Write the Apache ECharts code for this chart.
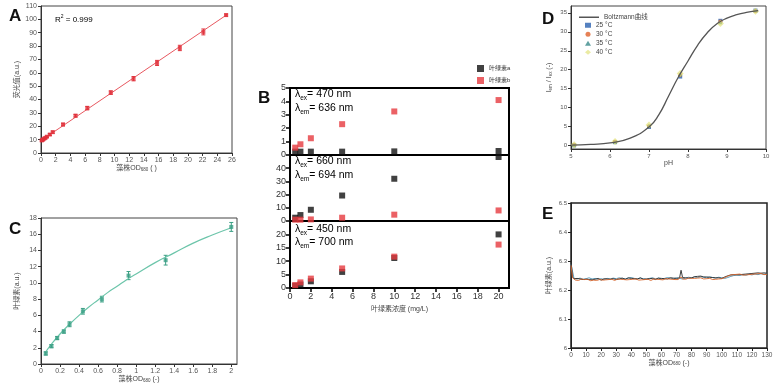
<!DOCTYPE html>
<html><head><meta charset="utf-8">
<script src="https://cdn.jsdelivr.net/npm/echarts@6/dist/echarts.min.js"></script>
<style>html,body{margin:0;padding:0;background:#fff}#c{width:780px;height:388px}</style>
</head><body><div id="c"></div>
<script>
// ---------- Panel A ----------
const aX = [0.1,0.2,0.3,0.45,0.6,0.8,1.2,1.6,3.0,4.7,6.3,9.5,12.6,15.8,18.9,22.1,25.2];
const aY = [9.4,9.8,10.2,10.8,11.3,12.2,13.8,15.6,21.3,27.9,33.6,45.2,55.6,67.4,78.6,90.6,103.2];
const aErr = [0.5,0.5,0.5,0.5,0.6,0.6,0.7,0.8,1.0,1.0,1.3,1.3,1.6,1.9,2.0,2.2,0.8];
const aFitX = [0, 25.2];
const aFitY = [9.3, 103.1];
// ---------- Panel C ----------
const cX = [0.05,0.11,0.17,0.24,0.30,0.44,0.64,0.92,1.31,2.0];
const cY = [1.3,2.2,3.2,4.0,4.9,6.5,8.0,10.9,12.8,16.9];
const cErr = [0.2,0.2,0.2,0.2,0.3,0.35,0.35,0.5,0.6,0.55];
const cFitX = [0.05,0.1,0.2,0.3,0.4,0.5,0.6,0.7,0.8,0.9,1.0,1.2,1.4,1.6,1.8,2.0];
const cFitY = [1.5,2.3,3.7,4.9,6.0,7.0,7.9,8.8,9.6,10.4,11.1,12.5,13.7,14.9,15.9,16.8];
// ---------- Panel B ----------
const bX = [0.5,1,2,5,10,20];
const b1A = [0.25,0.25,0.25,0.25,0.27,0.3];
const b1B = [0.55,0.8,1.25,2.3,3.25,4.1];
const b2A = [2.5,4.5,8.5,19.3,32,48.5];
const b2B = [1,1,1.2,2.5,4.8,8];
const b3A = [0.8,1.3,2.5,6,11.2,20];
const b3B = [1.1,2.1,3.5,7.3,11.7,16.2];
// ---------- Panel D ----------
const dX = [5.08,6.13,7.0,7.8,8.83,9.73];
const d25 = [0.1,0.9,4.9,18.2,32.9,35.6];
const d30 = [0.15,1.0,5.1,18.6,32.7,35.5];
const d35 = [0.1,0.95,5.2,18.8,32.5,35.7];
const d40 = [0.2,1.1,5.4,19.0,32.2,35.4];
const dFitX = [5.0,5.5,6.0,6.5,7.0,7.25,7.5,7.75,8.0,8.25,8.5,8.75,9.0,9.25,9.5,9.8];
const dFitY = [0.1,0.3,0.7,1.9,4.9,8.1,13.0,18.0,22.3,26.5,29.8,32.2,33.6,34.5,35.1,35.6];
// ---------- Panel E ----------
const eBlack = [6.30,6.245,6.238,6.236,6.240,6.235,6.238,6.241,6.236,6.239,6.237,6.240,6.236,6.238,6.235,6.239,6.237,6.236,6.240,6.238,6.234,6.237,6.239,6.236,6.238,6.240,6.237,6.235,6.239,6.238,6.236,6.240,6.238,6.237,6.241,6.239,6.237,6.240,6.242,6.238,6.240,6.243,6.239,6.241,6.238,6.240,6.242,6.239,6.237,6.240,6.238,6.236,6.239,6.237,6.240,6.238,6.236,6.239,6.241,6.238,6.240,6.242,6.239,6.241,6.238,6.240,6.242,6.239,6.241,6.238,6.240,6.239,6.242,6.268,6.243,6.240,6.242,6.239,6.241,6.243,6.242,6.244,6.246,6.245,6.247,6.246,6.248,6.246,6.245,6.247,6.245,6.243,6.244,6.242,6.243,6.241,6.242,6.240,6.242,6.241,6.240,6.243,6.245,6.247,6.249,6.250,6.252,6.251,6.253,6.254,6.252,6.255,6.253,6.256,6.254,6.252,6.255,6.253,6.256,6.254,6.257,6.255,6.258,6.256,6.259,6.262,6.258,6.261,6.259,6.262,6.258];
const eOrange = [6.285,6.242,6.236,6.234,6.237,6.233,6.236,6.238,6.234,6.236,6.233,6.237,6.235,6.232,6.236,6.234,6.237,6.233,6.235,6.236,6.232,6.234,6.237,6.235,6.233,6.236,6.234,6.237,6.235,6.233,6.236,6.238,6.235,6.237,6.234,6.236,6.238,6.235,6.237,6.236,6.234,6.237,6.235,6.238,6.236,6.234,6.237,6.235,6.233,6.236,6.234,6.237,6.235,6.233,6.236,6.238,6.235,6.237,6.234,6.236,6.238,6.235,6.237,6.239,6.236,6.238,6.235,6.237,6.239,6.236,6.238,6.236,6.239,6.245,6.238,6.240,6.237,6.239,6.241,6.238,6.240,6.242,6.240,6.243,6.241,6.239,6.242,6.240,6.238,6.241,6.239,6.237,6.240,6.238,6.236,6.239,6.237,6.240,6.238,6.236,6.239,6.241,6.243,6.246,6.248,6.250,6.252,6.250,6.253,6.251,6.254,6.252,6.255,6.253,6.251,6.254,6.252,6.255,6.253,6.256,6.254,6.252,6.255,6.253,6.256,6.254,6.257,6.255,6.253,6.256,6.254];
const eBlue = [6.29,6.240,6.238,6.241,6.237,6.239,6.242,6.238,6.240,6.237,6.239,6.236,6.240,6.238,6.241,6.239,6.242,6.240,6.238,6.241,6.243,6.240,6.238,6.241,6.239,6.237,6.240,6.242,6.239,6.241,6.238,6.240,6.243,6.241,6.239,6.242,6.240,6.238,6.241,6.244,6.242,6.245,6.243,6.246,6.244,6.242,6.245,6.243,6.241,6.244,6.242,6.240,6.243,6.247,6.250,6.252,6.250,6.253,6.251,6.254,6.252,6.255,6.253,6.256,6.254,6.257];
const eStep1 = 1, eStep2 = 2;

const FONT = '"Liberation Sans","Noto Sans CJK SC",sans-serif';
const pair = (xs, ys) => xs.map((x, i) => [x, ys[i]]);
const idxPair = (ys, step) => ys.map((y, i) => [i * step, y]);

function ax(gi, min, max, interval, o) {
  o = o || {};
  const a = {
    type: 'value', gridIndex: gi, min: min, max: max, interval: interval,
    axisLine: { show: true, onZero: false, lineStyle: { color: o.lc || '#333', width: o.lw || 1 } },
    axisTick: { show: o.tick !== false, inside: false, length: o.tl || 3, lineStyle: { color: o.lc || '#333', width: o.lw || 1 } },
    axisLabel: { show: o.label !== false, fontSize: o.fs || 7, color: o.col || '#555', margin: o.margin || 4, fontFamily: FONT, showMaxLabel: o.showMax !== false },
    splitLine: { show: false }
  };
  if (o.custom) { a.axisLabel.customValues = o.custom; a.axisTick.customValues = o.custom; }
  if (o.name) {
    a.name = o.name; a.nameLocation = 'middle'; a.nameGap = o.gap;
    if (o.rot) a.nameRotate = o.rot;
    a.nameTextStyle = { fontSize: 7, color: '#444', fontFamily: FONT, rich: {
      t: { fontSize: 7, color: '#444', fontFamily: FONT },
      s: { fontSize: 4.5, color: '#444', fontFamily: FONT, verticalAlign: 'bottom', lineHeight: 6 } } };
  }
  return a;
}

function errSeries(xi, xs, ys, es, color) {
  return {
    type: 'custom', xAxisIndex: xi, yAxisIndex: xi, silent: true, z: 3,
    data: xs.map((x, i) => [x, ys[i] - es[i], ys[i] + es[i]]),
    encode: { x: 0, y: [1, 2] },
    renderItem: function (params, api) {
      const lo = api.coord([api.value(0), api.value(1)]);
      const hi = api.coord([api.value(0), api.value(2)]);
      const w = 2;
      const st = { stroke: color, lineWidth: 1 };
      return { type: 'group', children: [
        { type: 'line', shape: { x1: lo[0], y1: lo[1], x2: hi[0], y2: hi[1] }, style: st },
        { type: 'line', shape: { x1: lo[0] - w, y1: lo[1], x2: lo[0] + w, y2: lo[1] }, style: st },
        { type: 'line', shape: { x1: hi[0] - w, y1: hi[1], x2: hi[0] + w, y2: hi[1] }, style: st }
      ] };
    }
  };
}

const RED = '#e0303a', TEAL = '#3a9f84', BK = '#111', BR = '#e63a3f';
const rich = {
  a: { fontSize: 10.5, color: '#222', fontFamily: FONT, lineHeight: 14 },
  s: { fontSize: 6.5, color: '#222', fontFamily: FONT, lineHeight: 8, verticalAlign: 'bottom' }
};
function lam(left, top, sub, txt) {
  return { type: 'text', left: left, top: top, style: { text: '{a|λ}{s|' + sub + '}{a|' + txt + '}', rich: rich } };
}
function letter(t, left, top) {
  return { type: 'text', left: left, top: top, style: { text: t, font: 'bold 17px "Liberation Sans", sans-serif', fill: '#111' } };
}
const legText = { fontSize: 6.5, color: '#444', fontFamily: FONT, lineHeight: 6 };

const option = {
  animation: false,
  backgroundColor: '#fff',
  textStyle: { fontFamily: FONT },
  grid: [
    { left: 41, top: 6, width: 191, height: 147, show: true, borderColor: '#444', borderWidth: 1 },
    { left: 41, top: 218, width: 196, height: 146, show: true, borderColor: '#444', borderWidth: 1 },
    { left: 290, top: 88, width: 219, height: 67, show: true, borderColor: '#000', borderWidth: 2 },
    { left: 290, top: 155, width: 219, height: 66, show: true, borderColor: '#000', borderWidth: 2 },
    { left: 290, top: 221, width: 219, height: 67, show: true, borderColor: '#000', borderWidth: 2 },
    { left: 571, top: 6, width: 195, height: 143, show: true, borderColor: '#444', borderWidth: 1 },
    { left: 571, top: 203, width: 196, height: 145, show: true, borderColor: '#222', borderWidth: 1.5 }
  ],
  xAxis: [
    ax(0, 0, 26, 2, { name: '{t|藻株OD}{s|680}{t| ( )}', gap: 12 }),
    ax(1, 0, 2.06, 0.2, { showMax: false, name: '{t|藻株OD}{s|680}{t| (-)}', gap: 12 }),
    ax(2, 0, 21, 2, { label: false, tick: false, lc: '#000', lw: 2 }),
    ax(3, 0, 21, 2, { label: false, tick: false, lc: '#000', lw: 2 }),
    ax(4, 0, 21, 2, { showMax: false, fs: 9, col: '#333', lc: '#000', lw: 1.5, tl: 4, name: '叶绿素浓度 (mg/L)', gap: 18 }),
    ax(5, 5, 10, 1, { fs: 6, name: 'pH', gap: 10 }),
    ax(6, 0, 130, 10, { fs: 6.5, lc: '#222', name: '{t|藻株OD}{s|680}{t| (-)}', gap: 11 })
  ],
  yAxis: [
    ax(0, 0, 110, 10, { name: '荧光值(a.u.)', gap: 20 }),
    ax(1, 0, 18, 2, { name: '叶绿素(a.u.)', gap: 20 }),
    ax(2, 0, 5, 1, { fs: 9, col: '#333', lc: '#000', lw: 1.5, tl: 4 }),
    ax(3, 0, 50, 10, { showMax: false, fs: 9, col: '#333', lc: '#000', lw: 1.5, tl: 4 }),
    ax(4, 0, 25, 5, { showMax: false, fs: 9, col: '#333', lc: '#000', lw: 1.5, tl: 4 }),
    ax(5, -0.9, 36.8, 5, { fs: 6, custom: [0, 5, 10, 15, 20, 25, 30, 35], name: '{t|I}{s|em}{t| / I}{s|ex}{t| (-)}', gap: 18 }),
    ax(6, 6, 6.5, 0.1, { fs: 6, lc: '#222', name: '叶绿素(a.u.)', gap: 18 })
  ],
  legend: [
    { data: ['叶绿素a', '叶绿素b'], left: 472, top: 60, orient: 'vertical', icon: 'rect', itemWidth: 7, itemHeight: 7, itemGap: 5,
      textStyle: { fontSize: 6, color: '#333', fontFamily: FONT } },
    { data: ['Boltzmann曲线'], left: 574, top: 9, orient: 'vertical', icon: 'rect',
      itemWidth: 20, itemHeight: 1.5, textStyle: legText },
    { data: ['25 °C', '30 °C', '35 °C', '40 °C'], left: 580, top: 17, orient: 'vertical',
      itemWidth: 6, itemHeight: 5, itemGap: 2.5, textStyle: legText }
  ],
  series: [
    // A
    { type: 'line', xAxisIndex: 0, yAxisIndex: 0, data: pair(aFitX, aFitY), showSymbol: false, lineStyle: { color: '#e85860', width: 1 }, silent: true },
    errSeries(0, aX, aY, aErr, RED),
    { type: 'scatter', xAxisIndex: 0, yAxisIndex: 0, data: pair(aX, aY), symbol: 'rect', symbolSize: 4, itemStyle: { color: RED }, z: 4 },
    // C
    { type: 'line', xAxisIndex: 1, yAxisIndex: 1, data: pair(cFitX, cFitY), smooth: true, showSymbol: false, lineStyle: { color: '#6cc5aa', width: 1.2 }, silent: true },
    errSeries(1, cX, cY, cErr, TEAL),
    { type: 'scatter', xAxisIndex: 1, yAxisIndex: 1, data: pair(cX, cY), symbol: 'rect', symbolSize: 4, itemStyle: { color: TEAL }, z: 4 },
    // B
    { name: '叶绿素a', type: 'scatter', xAxisIndex: 2, yAxisIndex: 2, data: pair(bX, b1A), symbol: 'rect', symbolSize: 6, itemStyle: { color: BK } },
    { name: '叶绿素b', type: 'scatter', xAxisIndex: 2, yAxisIndex: 2, data: pair(bX, b1B), symbol: 'rect', symbolSize: 6, itemStyle: { color: BR } },
    { name: '叶绿素a', type: 'scatter', xAxisIndex: 3, yAxisIndex: 3, data: pair(bX, b2A), symbol: 'rect', symbolSize: 6, itemStyle: { color: BK } },
    { name: '叶绿素b', type: 'scatter', xAxisIndex: 3, yAxisIndex: 3, data: pair(bX, b2B), symbol: 'rect', symbolSize: 6, itemStyle: { color: BR } },
    { name: '叶绿素a', type: 'scatter', xAxisIndex: 4, yAxisIndex: 4, data: pair(bX, b3A), symbol: 'rect', symbolSize: 6, itemStyle: { color: BK } },
    { name: '叶绿素b', type: 'scatter', xAxisIndex: 4, yAxisIndex: 4, data: pair(bX, b3B), symbol: 'rect', symbolSize: 6, itemStyle: { color: BR } },
    // D
    { name: 'Boltzmann曲线', type: 'line', xAxisIndex: 5, yAxisIndex: 5, data: pair(dFitX, dFitY), smooth: true, showSymbol: false, symbol: 'none', lineStyle: { color: '#555', width: 1.3 }, itemStyle: { color: '#555' } },
    { name: '25 °C', type: 'scatter', xAxisIndex: 5, yAxisIndex: 5, data: pair(dX, d25), symbol: 'rect', symbolSize: 4, itemStyle: { color: '#2a62b0' } },
    { name: '30 °C', type: 'scatter', xAxisIndex: 5, yAxisIndex: 5, data: pair(dX, d30), symbol: 'circle', symbolSize: 4, itemStyle: { color: '#e0622c' } },
    { name: '35 °C', type: 'scatter', xAxisIndex: 5, yAxisIndex: 5, data: pair(dX, d35), symbol: 'triangle', symbolSize: 4, itemStyle: { color: '#3a8a8a' } },
    { name: '40 °C', type: 'scatter', xAxisIndex: 5, yAxisIndex: 5, data: pair(dX, d40), symbol: 'diamond', symbolSize: 7, itemStyle: { color: 'rgba(225,225,120,0.85)' } },
    // E
    { type: 'line', xAxisIndex: 6, yAxisIndex: 6, data: idxPair(eBlue, eStep2), showSymbol: false, lineStyle: { color: '#4b8fb0', width: 0.9 }, silent: true },
    { type: 'line', xAxisIndex: 6, yAxisIndex: 6, data: idxPair(eBlack, eStep1), showSymbol: false, lineStyle: { color: '#2a2a2a', width: 0.9 }, silent: true },
    { type: 'line', xAxisIndex: 6, yAxisIndex: 6, data: idxPair(eOrange, eStep1), showSymbol: false, lineStyle: { color: '#d9652b', width: 0.9 }, silent: true }
  ],
  graphic: [
    letter('A', 9, 8), letter('C', 9, 221), letter('B', 258, 90), letter('D', 542, 11), letter('E', 542, 206),
    { type: 'text', left: 55, top: 14, style: { text: '{t|R}{p|2}{t| = 0.999}', rich: {
      t: { fontSize: 8, color: '#222', fontFamily: FONT, lineHeight: 10, verticalAlign: 'bottom' },
      p: { fontSize: 5, color: '#222', fontFamily: FONT, lineHeight: 6, verticalAlign: 'top' } } } },
    lam(295, 89, 'ex', '= 470 nm'), lam(295, 103, 'em', '= 636 nm'),
    lam(295, 156, 'ex', '= 660 nm'), lam(295, 170, 'em', '= 694 nm'),
    lam(295, 224, 'ex', '= 450 nm'), lam(295, 237, 'em', '= 700 nm')
  ]
};
const chart = echarts.init(document.getElementById('c'), null, { renderer: 'canvas' });
chart.setOption(option);
</script>
</body></html>
